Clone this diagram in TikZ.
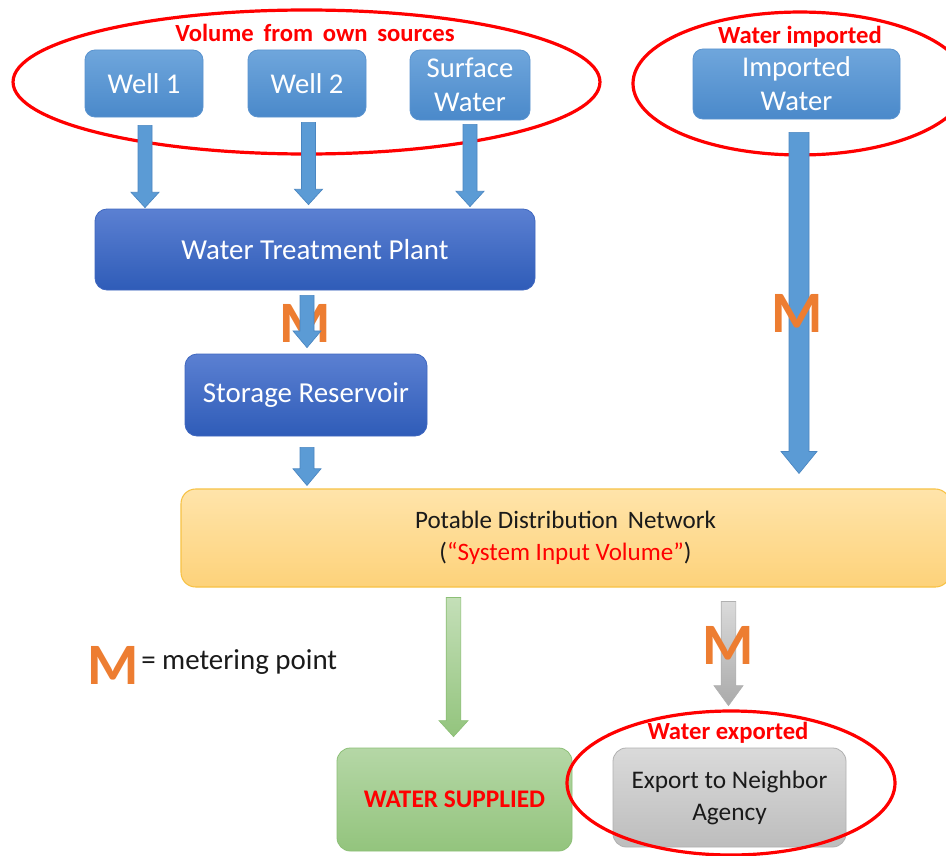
\documentclass[tikz,border=0pt]{standalone}
\usepackage{fontspec}
\setmainfont{Carlito}
\usetikzlibrary{calc}

\definecolor{srctop}{HTML}{6FA6DC}
\definecolor{srcbot}{HTML}{4A89CA}
\definecolor{srcedge}{HTML}{5A93CF}
\definecolor{plttop}{HTML}{5B80D2}
\definecolor{pltbot}{HTML}{2F5CB8}
\definecolor{pltedge}{HTML}{3F67BF}
\definecolor{pdntop}{HTML}{FFE4AA}
\definecolor{pdnbot}{HTML}{FDD27A}
\definecolor{pdnedge}{HTML}{F7C245}
\definecolor{grntop}{HTML}{B5D7A6}
\definecolor{grnbot}{HTML}{93C47D}
\definecolor{grnedge}{HTML}{8CBF76}
\definecolor{grytop}{HTML}{DADADA}
\definecolor{grybot}{HTML}{BDBDBD}
\definecolor{gryedge}{HTML}{B0B0B0}
\definecolor{flowblue}{HTML}{5B9BD5}
\definecolor{flowedge}{HTML}{4A86C1}
\definecolor{meter}{HTML}{ED7D31}
\definecolor{callout}{HTML}{FF0000}
\definecolor{ink}{HTML}{1A1A1A}

% vertical block arrow: start, end, shaft half width, head half width, head length, style
\newcommand\blockarrow[6]{%
  \path[#6] let \p1=(#1), \p2=(#2) in
    (\x1-#3,\y1) -- (\x1+#3,\y1) -- (\x1+#3,\y2+#5) -- (\x1+#4,\y2+#5)
    -- (\x1,\y2) -- (\x1-#4,\y2+#5) -- (\x1-#3,\y2+#5) -- cycle;}

\tikzset{
  srcbox/.style={rounded corners=7.5pt, top color=srctop, bottom color=srcbot,
    draw=srcedge, line width=0.6pt, text=white, align=center, inner sep=0pt,
    font=\fontsize{21.5}{25.5}\selectfont},
  plantbox/.style={rounded corners=9pt, top color=plttop, bottom color=pltbot,
    draw=pltedge, line width=0.6pt, text=white, align=center, inner sep=0pt,
    font=\fontsize{21.7}{25.5}\selectfont},
  netbox/.style={rounded corners=11pt, top color=pdntop, bottom color=pdnbot,
    draw=pdnedge, line width=0.8pt, text=ink, align=center, inner sep=0pt,
    font=\fontsize{18.8}{24}\selectfont},
  supplybox/.style={rounded corners=10pt, top color=grntop, bottom color=grnbot,
    draw=grnedge, line width=0.6pt, text=callout, align=center, inner sep=0pt,
    font=\bfseries\fontsize{19}{22}\selectfont},
  exportbox/.style={rounded corners=10pt, top color=grytop, bottom color=grybot,
    draw=gryedge, line width=0.6pt, text=ink, align=center, inner sep=0pt,
    font=\fontsize{19}{24}\selectfont},
  ring/.style={draw=callout, line width=2.4pt},
  ringlabel/.style={text=callout, font=\bfseries\fontsize{18.5}{22}\selectfont, inner sep=0pt},
  meterM/.style={text=meter, font=\bfseries\fontsize{44}{44}\selectfont, inner sep=0pt},
  blueflow/.style={fill=flowblue, draw=flowedge, line width=0.5pt},
  greenflow/.style={top color=grntop!80!white, bottom color=grnbot, draw=grnedge, line width=0.5pt},
  grayflow/.style={top color=grytop, bottom color=grybot!90!black, draw=gryedge, line width=0.5pt},
}

\begin{document}
\begin{tikzpicture}[x=0.75pt, y=-0.75pt]
\clip (0,0) rectangle (946,856);
\fill[white] (0,0) rectangle (946,856);

% sources
\node[srcbox, minimum width=88.5pt, minimum height=50.25pt] (w1) at (144,83.5) {Well 1};
\node[srcbox, minimum width=88.5pt, minimum height=50.25pt] (w2) at (307,83.5) {Well 2};
\node[srcbox, minimum width=90pt, minimum height=52.5pt] (sw) at (470,85) {Surface\\Water};
\node[srcbox, minimum width=155.25pt, minimum height=52.5pt] (iw) at (796.5,84) {Imported\\Water};

% treatment and storage
\node[plantbox, minimum width=330pt, minimum height=60.75pt] (wtp) at (315,249.5) {Water Treatment Plant};
\node[plantbox, minimum width=181.5pt, minimum height=61.5pt] (sr) at (306,395) {Storage Reservoir};

% distribution network
\node[netbox, minimum width=576.75pt, minimum height=73.5pt] (pdn) at (565.5,538)
  {Potable Distribution\, Network\\(\textcolor{callout}{“System Input Volume”})};

% outputs
\node[supplybox, minimum width=176.25pt, minimum height=77.25pt] (ws) at (454.5,799.5) {WATER SUPPLIED};
\node[exportbox, minimum width=174.75pt, minimum height=74.25pt] (ex) at (729.5,797.5) {Export to Neighbor\\Agency};

% callout rings
\draw[ring] (306.5,82) ellipse [x radius=220.1pt, y radius=54pt];
\draw[ring] (800,83.5) ellipse [x radius=125.25pt, y radius=53.6pt];
\draw[ring] (731,783) ellipse [x radius=123pt, y radius=54pt];

% arrow end points
\coordinate (a1s) at ($(w1.south)+(1,8)$);
\coordinate (a1e) at ($(a1s |- wtp.north)+(0,-1)$);
\coordinate (a2s) at ($(w2.south)+(1.5,5)$);
\coordinate (a2e) at ($(a2s |- wtp.north)+(0,-4)$);
\coordinate (a3s) at ($(sw.south)+(0,4)$);
\coordinate (a3e) at ($(a3s |- wtp.north)+(0,-2)$);
\coordinate (a4s) at ($(sr.north |- wtp.south)+(1,5)$);
\coordinate (a4e) at ($(sr.north)+(1,-6)$);
\coordinate (a5s) at ($(sr.south)+(1,11)$);
\coordinate (a5e) at ($(a5s |- pdn.north)+(0,-3)$);
\coordinate (a6s) at ($(iw.south)+(2.5,13)$);
\coordinate (a6e) at ($(a6s |- pdn.north)+(0,-15)$);
\coordinate (a7s) at ($(ws.north |- pdn.south)+(-1,10)$);
\coordinate (a7e) at ($(ws.north)+(-1,-11)$);
\coordinate (a8s) at ($(ex.north |- pdn.south)+(-1,14)$);
\coordinate (a8e) at ($(ex.north)+(-1,-42)$);

% flows
\blockarrow{a1s}{a1e}{5.25pt}{10.5pt}{11.5pt}{blueflow}
\blockarrow{a2s}{a2e}{5.25pt}{10.5pt}{11.5pt}{blueflow}
\blockarrow{a3s}{a3e}{5.25pt}{10.5pt}{11.5pt}{blueflow}
\node[meterM] (m1) at (305,323) {M};
\blockarrow{a4s}{a4e}{5.25pt}{10.5pt}{12.5pt}{blueflow}
\blockarrow{a5s}{a5e}{5.25pt}{10.5pt}{12.5pt}{blueflow}
\blockarrow{a6s}{a6e}{7.5pt}{13.5pt}{16.5pt}{blueflow}
\node[meterM] (m2) at (797,313) {M};
\blockarrow{a7s}{a7e}{5.5pt}{10.9pt}{12pt}{greenflow}
\blockarrow{a8s}{a8e}{5.5pt}{10.9pt}{15pt}{grayflow}
\node[meterM] (m3) at (728,645) {M};

% ring captions
\node[ringlabel] (l1) at (315,33) {Volume\, from\, own\, sources};
\node[ringlabel] (l2) at (800,37) {Water imported};
\node[ringlabel] (l3) at (728,733) {Water exported};

% legend
\node[meterM] (lm) at (113,665) {M};
\node[anchor=west, text=ink, inner sep=0pt, font=\fontsize{21.7}{24}\selectfont] (lt) at (141,662) {= metering point};
\end{tikzpicture}
\end{document}
